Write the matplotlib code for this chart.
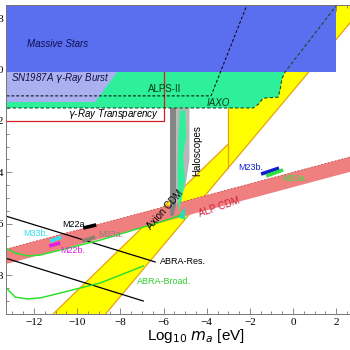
import numpy as np
import matplotlib.pyplot as plt
from matplotlib.ticker import MultipleLocator, FuncFormatter

# --- data (log10 m_a [eV], log10 g [GeV^-1]) ---
stars_m = [-13.5, 2.0, 2.0, -13.5]
stars_g = [-7.0, -7.0, -10.1, -10.1]

sn_m = [-13.5, -8.15, -9.17, -13.5]
sn_g = [-10.1, -10.1, -11.27, -11.27]

helio_m = [-13.5, 1.9, -0.37, -0.51, -0.6, -0.69, -1.1, -1.39, -1.6, -1.85, -13.5]
helio_g = [-7.0, -7.0, -10.1, -10.35, -10.8, -11.08, -11.1, -11.12, -11.35, -11.5, -11.5]

iaxo_m = [-13.5, -1.85, -1.6, -1.39, -1.1, -0.69, -0.6, -0.51, -0.37, 2.3]
iaxo_g = [-11.5, -11.5, -11.35, -11.12, -11.1, -11.08, -10.8, -10.35, -10.1, -7.2]

alps_m = [-13.5, -3.8, -2.0]
alps_g = [-11.03, -11.03, -7.2]

transp_m = [-13.5, -6.0, -6.0]
transp_g = [-12.0, -12.0, -10.1]

# axion CDM band: lower edge g = m + c, upper edge through two points, cut at m = -3
qcd_lower_c = -10.83
qcd_up_m = [-11.22, -3.0]
qcd_up_g = [-19.6, -12.9]
qcd_vline_m = -3.0

alp_top = -14.0     # g = alp_top + alp_slope * m
alp_slope = 0.225
alp_width = 0.58

halo_dark_m = [-5.7, -5.42, -5.42, -5.55, -5.7]
halo_dark_g = [-11.5, -11.5, -15.3, -15.7, -15.7]
halo_light_m = [-5.42, -4.8, -4.8, -5.0, -5.42]
halo_light_g = [-11.5, -11.5, -13.5, -14.6, -15.3]
halo_teal_m = [-5.25, -5.0, -4.95, -5.1, -5.0, -5.15, -5.3, -5.35, -5.3]
halo_teal_g = [-11.6, -11.6, -12.6, -13.4, -14.3, -15.0, -15.6, -14.0, -12.5]
wedge_m = [-5.35, -5.0, -5.0]
wedge_g = [-15.75, -15.35, -15.85]

abra_res1_m = [-13.33, -6.39]
abra_res1_g = [-15.70, -17.49]
abra_res2_m = [-13.33, -6.94]
abra_res2_g = [-17.34, -19.01]

abra_b1_m = [-13.33, -12.87, -12.31, -11.71, -10.79, -8.94, -6.76, -5.69, -5.23]
abra_b1_g = [-16.95, -17.14, -17.26, -17.22, -17.03, -16.64, -16.09, -15.82, -15.67]
abra_b2_m = [-13.33, -12.87, -12.31, -11.71, -10.79, -8.94, -6.94]
abra_b2_g = [-18.47, -18.86, -18.93, -18.89, -18.70, -18.31, -17.65]

marks = {
    'M22a.': ([-9.72, -9.12], [-16.17, -16.05], 'black', (-10.69, -16.02)),
    'M33b.': ([-11.25, -10.74], [-16.68, -16.52], '#30e0f0', (-12.5, -16.37)),
    'M22b.': ([-11.30, -10.79], [-16.87, -16.75], '#e020e0', (-10.79, -17.03)),
    'M33a.': ([-9.77, -9.17], [-16.68, -16.52], '#8a8070', (-9.03, -16.44)),
    'M23b.': ([-1.48, -0.65], [-14.07, -13.84], '#1020d0', (-2.55, -13.8)),
    'M23a.': ([-1.25, -0.46], [-14.15, -13.91], '#30e040', (-0.51, -14.23)),
}

xlim = (-13.3, 3.0)
ylim = (-19.5, -7.5)

fig = plt.figure(figsize=(3.5, 3.5), dpi=100)
x0 = 6 / 350
x1 = (293 + 21.6 * xlim[1]) / 350
ax = fig.add_axes([x0, 1 - 313.6 / 350, x1 - x0, (313.6 - 5.15) / 350])
ax.set_xlim(*xlim)
ax.set_ylim(*ylim)

# axion CDM (QCD) band
g_lo, g_hi = -19.6, -7.0
low_m = [g_lo - qcd_lower_c, g_hi - qcd_lower_c]
band_m = [qcd_up_m[0], low_m[0], low_m[1], qcd_vline_m, qcd_vline_m]
band_g = [qcd_up_g[0], g_lo, g_hi, g_hi, qcd_up_g[1]]
ax.fill(band_m, band_g, color='#ffff00', lw=0, zorder=1)
edge = '#e8a010'
ax.plot(low_m, [g_lo, g_hi], color=edge, lw=0.9, zorder=1.1)
ax.plot(qcd_up_m, qcd_up_g, color=edge, lw=0.9, zorder=1.1)
ax.plot([qcd_vline_m, qcd_vline_m], [-11.5, qcd_vline_m + qcd_lower_c], color=edge, lw=0.9, zorder=1.1)

# ALP CDM band
mm = np.array([-14, 4])
ax.fill_between(mm, alp_top + alp_slope * mm - alp_width, alp_top + alp_slope * mm,
                color='#f08080', lw=0, zorder=2)
ax.plot(mm, alp_top + alp_slope * mm, color='#c04040', lw=0.5, ls=(0, (3, 2)), zorder=2.1)

# haloscopes
ax.fill(halo_dark_m, halo_dark_g, color='#858585', lw=0, zorder=3)
ax.fill(halo_light_m, halo_light_g, color='#b8b8b8', lw=0, zorder=3)
ax.fill(halo_teal_m, halo_teal_g, color='#2ef09a', lw=0, zorder=3.1)
ax.fill(wedge_m, wedge_g, color='#20e0b8', lw=0, zorder=3.1)

# helioscopes + gamma ray transparency
ax.fill(helio_m, helio_g, color='#2ef09a', lw=0, zorder=4)
ax.plot(transp_m, transp_g, color='#d02020', lw=0.9, zorder=4.2)
ax.fill(sn_m, sn_g, color='#aab0f0', lw=0, zorder=4.5)
ax.fill(stars_m, stars_g, color='#5a6ef0', lw=0, zorder=5)
ax.plot(iaxo_m, iaxo_g, color='#105020', lw=0.8, ls=(0, (3, 2)), zorder=6)
ax.plot(alps_m, alps_g, color='black', lw=0.7, ls=(0, (3, 2)), zorder=6)

# ABRA
ax.plot(abra_res1_m, abra_res1_g, color='black', lw=0.9, zorder=3.5)
ax.plot(abra_res2_m, abra_res2_g, color='black', lw=0.9, zorder=3.5)
ax.plot(abra_b1_m, abra_b1_g, color='#30e030', lw=1.1, zorder=3.5)
ax.plot(abra_b2_m, abra_b2_g, color='#30e030', lw=1.1, zorder=3.5)

for name, (mx, gy, col, pos) in marks.items():
    ax.plot(mx, gy, color=col, lw=2.6, solid_capstyle='butt', zorder=7)
    ax.text(pos[0], pos[1], name, color=col, fontsize=6.5, ha='left', va='center',
            family='Liberation Sans', zorder=8)

tk = dict(family='Liberation Sans', zorder=8)
ax.text(-10.93, -9.01, 'Massive Stars', fontsize=7, style='italic', color='#101050', ha='center', va='center', **tk)
ax.text(-13.06, -10.33, 'SN1987A $\\gamma$-Ray Burst', fontsize=7, style='italic', color='#101040', ha='left', va='center', **tk)
ax.text(-6.2, -11.74, '$\\gamma$-Ray Transparency', fontsize=7, style='italic', color='black', ha='right', va='center', **tk)
ax.text(-6.71, -10.76, 'ALPS-II', fontsize=7, color='#0a3a1a', ha='left', va='center', **tk)
ax.text(-3.47, -11.31, 'IAXO', fontsize=7, style='italic', color='#0a3a1a', ha='center', va='center', **tk)
ax.text(-4.44, -13.14, 'Haloscopes', fontsize=7, rotation=90, color='black', ha='center', va='center', **tk)
ax.text(-5.93, -15.47, 'Axion CDM', fontsize=7, rotation=48, color='black', ha='center', va='center', **tk)
ax.text(-3.43, -15.35, 'ALP CDM', fontsize=7, rotation=19, color='#d02040', ha='center', va='center', **tk)
ax.text(-6.16, -17.49, 'ABRA-Res.', fontsize=6.5, color='black', ha='left', va='center', **tk)
ax.text(-7.22, -18.27, 'ABRA-Broad.', fontsize=6.5, color='#30d030', ha='left', va='center', **tk)

# axes styling
ax.xaxis.set_major_locator(MultipleLocator(2))
ax.xaxis.set_minor_locator(MultipleLocator(0.5))
ax.yaxis.set_major_locator(MultipleLocator(2))
ax.yaxis.set_minor_locator(MultipleLocator(0.5))
fmt = FuncFormatter(lambda v, p: f'{int(round(v))}'.replace('-', '\u2212'))
ax.xaxis.set_major_formatter(fmt)
ax.yaxis.set_major_formatter(fmt)
ax.tick_params(which='both', direction='in', top=True, right=True, color='#777777', width=0.6)
ax.tick_params(which='major', length=4.5, labelsize=8, pad=3)
ax.tick_params(which='minor', length=2.5)
ax.tick_params(axis='y', pad=1.5)
for lab in ax.get_xticklabels() + ax.get_yticklabels():
    lab.set_family('Liberation Serif')
for s in ax.spines.values():
    s.set_color('#777777')
    s.set_linewidth(0.7)
    s.set_zorder(9)
ax.set_xlabel('Log$_{10}$ $m_a$ [eV]', fontsize=11, family='Liberation Sans')
ax.xaxis.set_label_coords((196 - 6) / (x1 * 350 - 6), -0.042)

fig.savefig('out.png', dpi=100)
